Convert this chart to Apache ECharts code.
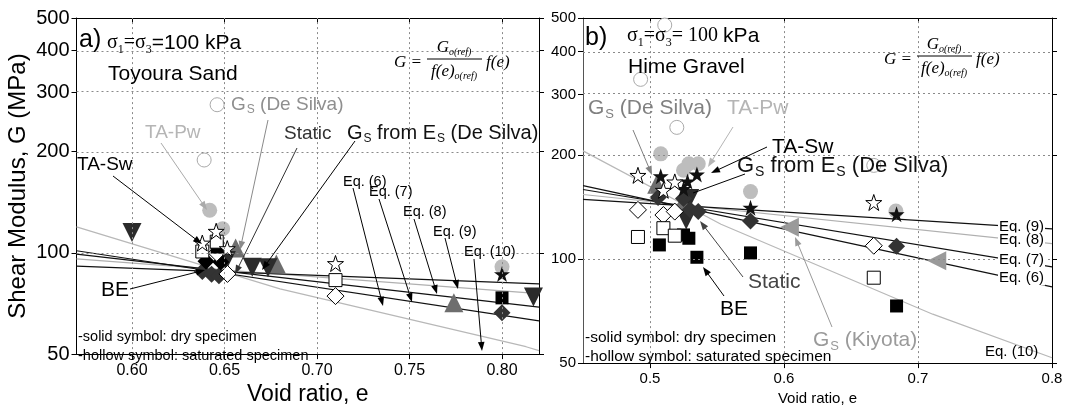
<!DOCTYPE html>
<html><head><meta charset="utf-8">
<script src="https://cdn.jsdelivr.net/npm/echarts@6/dist/echarts.min.js"></script>
<style>html,body{margin:0;padding:0;background:#fff}#c{width:1071px;height:411px}</style>
</head><body><div id="c"></div>
<script>
// ---------- Panel a) Toyoura Sand : [void ratio e, G (MPa)] ----------
const yTicks = [50, 100, 200, 300, 400, 500];
const yGrid = [100, 200, 300, 400];
const aXTicks = [0.60, 0.65, 0.70, 0.75, 0.80];
const aGrayHollowCircle = [[0.646, 276], [0.639, 189]];
const aGrayCircle = [[0.642, 134], [0.649, 118], [0.800, 91]];
const aTriUp = [[0.656, 103.5], [0.678, 92.7], [0.774, 71.1]];
const aTriDown = [[0.600, 115], [0.665, 90.7], [0.6735, 90.4], [0.651, 95], [0.817, 74]];
const aDarkDiamond = [[0.638, 88], [0.643, 86.4], [0.647, 85.5], [0.800, 66.4]];
const aBlackDiamond = [[0.640, 94.5], [0.648, 94]];
const aHollowDiamond = [[0.6458, 100], [0.6516, 86.6], [0.710, 74.4]];
const aBlackSquare = [[0.646, 104], [0.800, 73.5]];
const aHollowSquare = [[0.6458, 108], [0.638, 101], [0.710, 83]];
const aBlackStar = [[0.800, 86.5]];
const aHollowStar = [[0.6455, 116], [0.638, 107], [0.6515, 103], [0.710, 93]];
const aEq6 = [[0.57, 101.5], [0.82, 62.8]];
const aEq7 = [[0.57, 99.2], [0.82, 69.0]];
const aEq8 = [[0.57, 96.0], [0.82, 75.7]];
const aEq9 = [[0.57, 91.3], [0.82, 80.9]];
const aEq10 = [[0.57, 119.5], [0.68, 78.2], [0.813, 52.6], [0.82, 51.2]];

// ---------- Panel b) Hime Gravel ----------
const bXTicks = [0.5, 0.6, 0.7, 0.8];
const bXGrid = [0.5, 0.6, 0.7];
const bGrayHollowCircle = [[0.511, 477], [0.493, 332], [0.520, 241], [0.667, 187]];
const bGrayCircle = [[0.508, 202], [0.529, 189], [0.536, 189], [0.525, 181], [0.575, 157], [0.6835, 138]];
const bTriLeft = [[0.604, 123.8], [0.714, 99]];
const bTriUp = [[0.505, 165], [0.5245, 146]];
const bTriDown = [[0.527, 130], [0.5296, 150]];
const bDarkDiamond = [[0.506, 151], [0.525, 150], [0.530, 139], [0.536, 137.4], [0.575, 129], [0.684, 109]];
const bHollowDiamond = [[0.491, 139], [0.510, 134.3], [0.5185, 137.4], [0.667, 109.4]];
const bBlackSquare = [[0.507, 110], [0.525, 117.6], [0.529, 115], [0.535, 101.3], [0.575, 104.3], [0.684, 73.2]];
const bHollowSquare = [[0.491, 116], [0.510, 123], [0.5185, 117], [0.667, 88.4]];
const bBlackStar = [[0.508, 174], [0.528, 168], [0.535, 176], [0.525, 160], [0.575, 141], [0.684, 135]];
const bHollowStar = [[0.491, 175], [0.5185, 167.5], [0.510, 158.4], [0.667, 146]];
const bEq6 = [[0.45, 163.4], [0.80, 83.1]];
const bEq7 = [[0.45, 159.2], [0.80, 95.0]];
const bEq8 = [[0.45, 154], [0.80, 111]];
const bEq9 = [[0.45, 149], [0.80, 122.5]];
const bEq10 = [[0.45, 206], [0.553, 126.3], [0.711, 69.3], [0.80, 51.8]];

const SANS = 'Liberation Sans, Arial, sans-serif';
const SERIF = 'Liberation Serif, Times New Roman, serif';
const LOG = v => Math.log10(v);
const pts = arr => arr.map(p => [p[0], LOG(p[1])]);
const STAR = 'path://M50,2 L61.8,36.2 L97.6,36.2 L68.6,57.4 L79.4,91.6 L50,70.4 L20.6,91.6 L31.4,57.4 L2.4,36.2 L38.2,36.2 Z';

function scat(data, xi, symbol, size, fill, stroke, rotate) {
  return {type: 'scatter', xAxisIndex: xi, yAxisIndex: xi, data: pts(data), symbol, symbolSize: size,
    symbolRotate: rotate || 0, silent: true, animation: false, z: 3,
    itemStyle: {color: fill, borderColor: stroke || fill, borderWidth: stroke ? 1 : 0, opacity: 1}};
}
function eq(data, xi, color, w) {
  return {type: 'line', xAxisIndex: xi, yAxisIndex: xi, data: pts(data), symbol: 'none', showSymbol: false,
    lineStyle: {color, width: w}, z: 2, silent: true, animation: false};
}
function gridSeries(xi, xs, ys, anchor) {
  return {type: 'line', xAxisIndex: xi, yAxisIndex: xi, data: [anchor], symbol: 'none', showSymbol: false,
    lineStyle: {opacity: 0}, z: 1, silent: true, animation: false,
    markLine: {silent: true, symbol: ['none', 'none'], label: {show: false}, animation: false,
      lineStyle: {type: [2, 3], color: '#8a8a8a', width: 1},
      data: xs.map(v => ({xAxis: v})).concat(ys.map(v => ({yAxis: LOG(v)})))}};
}
function xAx(gi, min, max, ticks, pos, fmt, fs, name, nfs, gap) {
  const main = pos === 'bottom';
  return {gridIndex: gi, type: 'value', min, max, position: pos,
    axisLine: {onZero: false, lineStyle: {color: '#000', width: 1}},
    axisTick: {customValues: ticks, inside: !main, length: 5, lineStyle: {color: '#000'}},
    axisLabel: {show: main, customValues: ticks, formatter: v => v.toFixed(fmt), fontSize: fs, color: '#000', fontFamily: SANS, margin: 8},
    splitLine: {show: false},
    name: main ? name : '', nameLocation: 'middle', nameGap: gap,
    nameTextStyle: {fontSize: nfs, color: '#000', fontFamily: SANS}};
}
function yAx(gi, pos, fs, name, gap, lc) {
  const main = pos === 'left';
  return {gridIndex: gi, type: 'value', min: LOG(50), max: LOG(500), position: pos,
    axisLine: {onZero: false, lineStyle: {color: lc || '#000', width: 1}},
    axisTick: {customValues: yTicks.map(LOG), inside: false, length: 5, lineStyle: {color: '#000'}},
    axisLabel: {show: main, customValues: yTicks.map(LOG), formatter: v => String(Math.round(Math.pow(10, v))),
      fontSize: fs, color: '#000', fontFamily: SANS, margin: 7},
    splitLine: {show: false},
    name: name || '', nameLocation: 'middle', nameGap: gap || 0,
    nameTextStyle: {fontSize: 24, color: '#000', fontFamily: SANS}};
}

function panelSeries(xi, d) {
  return [
    eq(d.e10, xi, '#b8b8b8', 1.2), eq(d.e8, xi, '#b0b0b0', 1.2),
    eq(d.e9, xi, '#111', 1.2), eq(d.e7, xi, '#111', 1.2), eq(d.e6, xi, '#111', 1.2),
    scat(d.ghc, xi, 'circle', 14, '#fff', '#aaa'),
    scat(d.gc, xi, 'circle', 15, '#bdbdbd'),
    scat(d.tu, xi, 'triangle', 19, '#6e6e6e', null, 0),
    scat(d.td, xi, 'triangle', 19, '#2b2b2b', null, 180),
    scat(d.dd, xi, 'diamond', 17, '#333'),
    scat(d.bd, xi, 'diamond', 17, '#000'),
    scat(d.hd, xi, 'diamond', 17, '#fff', '#000'),
    scat(d.bs, xi, 'rect', 13, '#000'),
    scat(d.hs, xi, 'rect', 13, '#fff', '#000'),
    scat(d.bst, xi, STAR, 16, '#111'),
    scat(d.hst, xi, STAR, 16, '#fff', '#000')
  ];
}

const series = [
  gridSeries(0, aXTicks, yGrid, [0.6, 2]),
  gridSeries(2, bXGrid, yGrid, [0.6, 2]),
  ...panelSeries(0, {e6: aEq6, e7: aEq7, e8: aEq8, e9: aEq9, e10: aEq10, ghc: aGrayHollowCircle, gc: aGrayCircle,
    tu: aTriUp, td: aTriDown, dd: aDarkDiamond, bd: aBlackDiamond, hd: aHollowDiamond, bs: aBlackSquare,
    hs: aHollowSquare, bst: aBlackStar, hst: aHollowStar}),
  ...panelSeries(2, {e6: bEq6, e7: bEq7, e8: bEq8, e9: bEq9, e10: bEq10, ghc: bGrayHollowCircle, gc: bGrayCircle,
    tu: bTriUp, td: bTriDown, dd: bDarkDiamond, bd: [], hd: bHollowDiamond, bs: bBlackSquare,
    hs: bHollowSquare, bst: bBlackStar, hst: bHollowStar}),
  scat(bTriLeft, 2, 'triangle', 19, '#9a9a9a', null, 90)
];

// ---------- annotation helpers ----------
function T(x, y, text, size, color, extra) {
  return {type: 'text', x, y, silent: true, z: 50,
    style: Object.assign({text, fontSize: size, fontFamily: SANS, fill: color || '#000', align: 'left', verticalAlign: 'middle'}, extra || {})};
}
function sub(x, y, main1, subTxt, rest, size, color, sfs) {
  return T(x, y, '{m|' + main1 + '}{s|' + subTxt + '}{m|' + rest + '}', size, color, {rich: {
    m: {fontSize: size, fontFamily: SANS, fill: color},
    s: {fontSize: sfs || Math.round(size * 0.62), fontFamily: SANS, fill: color, padding: [Math.round(size * 0.55), 0, 0, 1]}}});
}
function subs2(x, y, size, color) {
  const r = {m: {fontSize: size, fontFamily: SANS, fill: color},
    s: {fontSize: Math.round(size * 0.62), fontFamily: SANS, fill: color, padding: [Math.round(size * 0.55), 0, 0, 1]}};
  return T(x, y, '{m|G}{s|S}{m| from E}{s|S}{m| (De Silva)}', size, color, {rich: r});
}
function A(x1, y1, x2, y2, color, w, noHead) {
  const ang = Math.atan2(y2 - y1, x2 - x1), c = Math.cos(ang), s = Math.sin(ang);
  const L = 9, H = 3.3;
  const out = [{type: 'line', silent: true, z: 40, shape: {x1, y1, x2: noHead ? x2 : x2 - L * 0.7 * c, y2: noHead ? y2 : y2 - L * 0.7 * s},
    style: {stroke: color, lineWidth: w || 1}}];
  if (!noHead) out.push({type: 'polygon', silent: true, z: 40, shape: {points: [[x2, y2],
    [x2 - L * c + H * s, y2 - L * s - H * c], [x2 - L * c - H * s, y2 - L * s + H * c]]}, style: {fill: color}});
  return out;
}
function sigma(x, y, serif100) {
  const r = {a: {fontSize: 20, fontFamily: SERIF, fill: '#000'},
    s: {fontSize: 12, fontFamily: SERIF, fill: '#000', padding: [13, 0, 0, 0]},
    b: {fontSize: 21, fontFamily: SANS, fill: '#000'}};
  const t = serif100 ? '{a|σ}{s|1}{a|=σ}{s|3}{a|= 100 }{b|kPa}' : '{a|σ}{s|1}{a|=σ}{s|3}{b|=100 kPa}';
  return T(x, y, t, 20, '#000', {rich: r});
}
function formula(x0, y0) {
  const it = {fontFamily: SERIF, fontStyle: 'italic', fill: '#000'};
  const r = {m: Object.assign({fontSize: 17}, it), s: Object.assign({fontSize: 10, padding: [9, 0, 0, 0]}, it)};
  return [
    T(x0, y0, 'G =', 17, '#000', {fontFamily: SERIF, fontStyle: 'italic'}),
    T(x0 + 60, y0 - 15, '{m|G}{s|o(ref)}', 17, '#000', {rich: r, align: 'center'}),
    {type: 'line', silent: true, z: 50, shape: {x1: x0 + 33, y1: y0 - 4, x2: x0 + 88, y2: y0 - 4}, style: {stroke: '#000', lineWidth: 1}},
    T(x0 + 60, y0 + 9, '{m|f(e)}{s|o(ref)}', 17, '#000', {rich: r, align: 'center'}),
    T(x0 + 92, y0, 'f(e)', 17, '#000', {fontFamily: SERIF, fontStyle: 'italic'})
  ];
}

const graphics = [
  // panel a
  T(79, 40, 'a)', 25), sigma(107, 43, false), T(108, 74, 'Toyoura Sand', 21),
  ...formula(394, 63),
  sub(231, 105, 'G', 'S', ' (De Silva)', 19, '#8f8f8f'),
  T(145, 133, 'TA-Pw', 19, '#b5b5b5'),
  T(284, 134, 'Static', 19, '#333'),
  subs2(347, 133, 20, '#111'),
  T(77, 165, 'TA-Sw', 19, '#000'),
  T(343, 182, 'Eq. (6)', 14.5), T(369, 192, 'Eq. (7)', 14.5), T(403, 212, 'Eq. (8)', 14.5),
  T(433, 232, 'Eq. (9)', 14.5), T(464, 252, 'Eq. (10)', 14.5),
  T(101, 290, 'BE', 21),
  T(78, 337, '-solid symbol: dry specimen', 14.5), T(78, 356, '-hollow symbol: saturated specimen', 14.5),
  ...A(113, 176, 202, 244, '#000'),
  ...A(161, 143, 207, 210, '#aaa'),
  ...A(268, 120, 240, 250, '#8a8a8a'),
  ...A(297, 148, 235, 274, '#333'),
  ...A(355, 141, 262, 270, '#000'),
  ...A(130, 289, 205, 270, '#000'),
  ...A(353, 188, 383, 306, '#000'), ...A(379, 199, 412, 302, '#000'), ...A(414, 219, 437, 294, '#000'),
  ...A(445, 238, 458, 289, '#000'), ...A(474, 259, 482, 351, '#000'),
  // panel b
  T(585, 38, 'b)', 25), sigma(627, 36, true), T(628, 67, 'Hime Gravel', 21),
  ...formula(884, 60),
  sub(588, 108, 'G', 'S', ' (De Silva)', 21, '#808080'),
  T(727, 108, 'TA-Pw', 21, '#b5b5b5'),
  T(772, 147, 'TA-Sw', 21, '#000'),
  subs2(737, 166, 22, '#111'),
  T(748, 282, 'Static', 21, '#444'),
  T(720, 309, 'BE', 21, '#000'),
  sub(813, 340, 'G', 'S', ' (Kiyota)', 21, '#9a9a9a'),
  T(998, 227, 'Eq. (9)', 15, '#000', {backgroundColor: '#fff', padding: [0, 1, 0, 1]}),
  T(998, 240, 'Eq. (8)', 15, '#000', {backgroundColor: '#fff', padding: [0, 1, 0, 1]}),
  T(998, 260, 'Eq. (7)', 15, '#000', {backgroundColor: '#fff', padding: [0, 1, 0, 1]}),
  T(998, 278, 'Eq. (6)', 15, '#000', {backgroundColor: '#fff', padding: [0, 1, 0, 1]}),
  T(985, 352, 'Eq. (10)', 15, '#000'),
  T(585, 338, '-solid symbol: dry specimen', 15.5), T(585, 357, '-hollow symbol: saturated specimen', 15.5),
  ...A(633, 130, 652, 175, '#808080'),
  ...A(733, 127, 708, 167, '#b5b5b5'),
  ...A(767, 147, 711, 173, '#000'),
  ...A(745, 174, 693, 193, '#000', 1, true),
  ...A(743, 277, 700, 221, '#444'),
  ...A(724, 296, 703, 267, '#000'),
  ...A(832, 327, 795, 237, '#9a9a9a')
];

const chart = echarts.init(document.getElementById('c'), null, {renderer: 'canvas'});
chart.setOption({
  animation: false,
  backgroundColor: '#fff',
  grid: [
    {left: 76.5, top: 18, width: 462.5, height: 348, containLabel: false},
    {left: 583, top: 18, width: 469, height: 348, containLabel: false}
  ],
  xAxis: [
    xAx(0, 0.57, 0.82, aXTicks, 'bottom', 2, 16, 'Void ratio, e', 23, 19),
    xAx(0, 0.57, 0.82, aXTicks, 'top', 2, 16),
    xAx(1, 0.45, 0.8, bXTicks, 'bottom', 1, 15, 'Void ratio, e', 15, 25),
    xAx(1, 0.45, 0.8, bXTicks, 'top', 1, 15)
  ],
  yAxis: [
    yAx(0, 'left', 20, 'Shear Modulus, G (MPa)', 46),
    yAx(0, 'right', 20),
    yAx(1, 'left', 15, '', 0, '#555'),
    yAx(1, 'right', 15)
  ],
  series,
  graphic: graphics
});
</script></body></html>
